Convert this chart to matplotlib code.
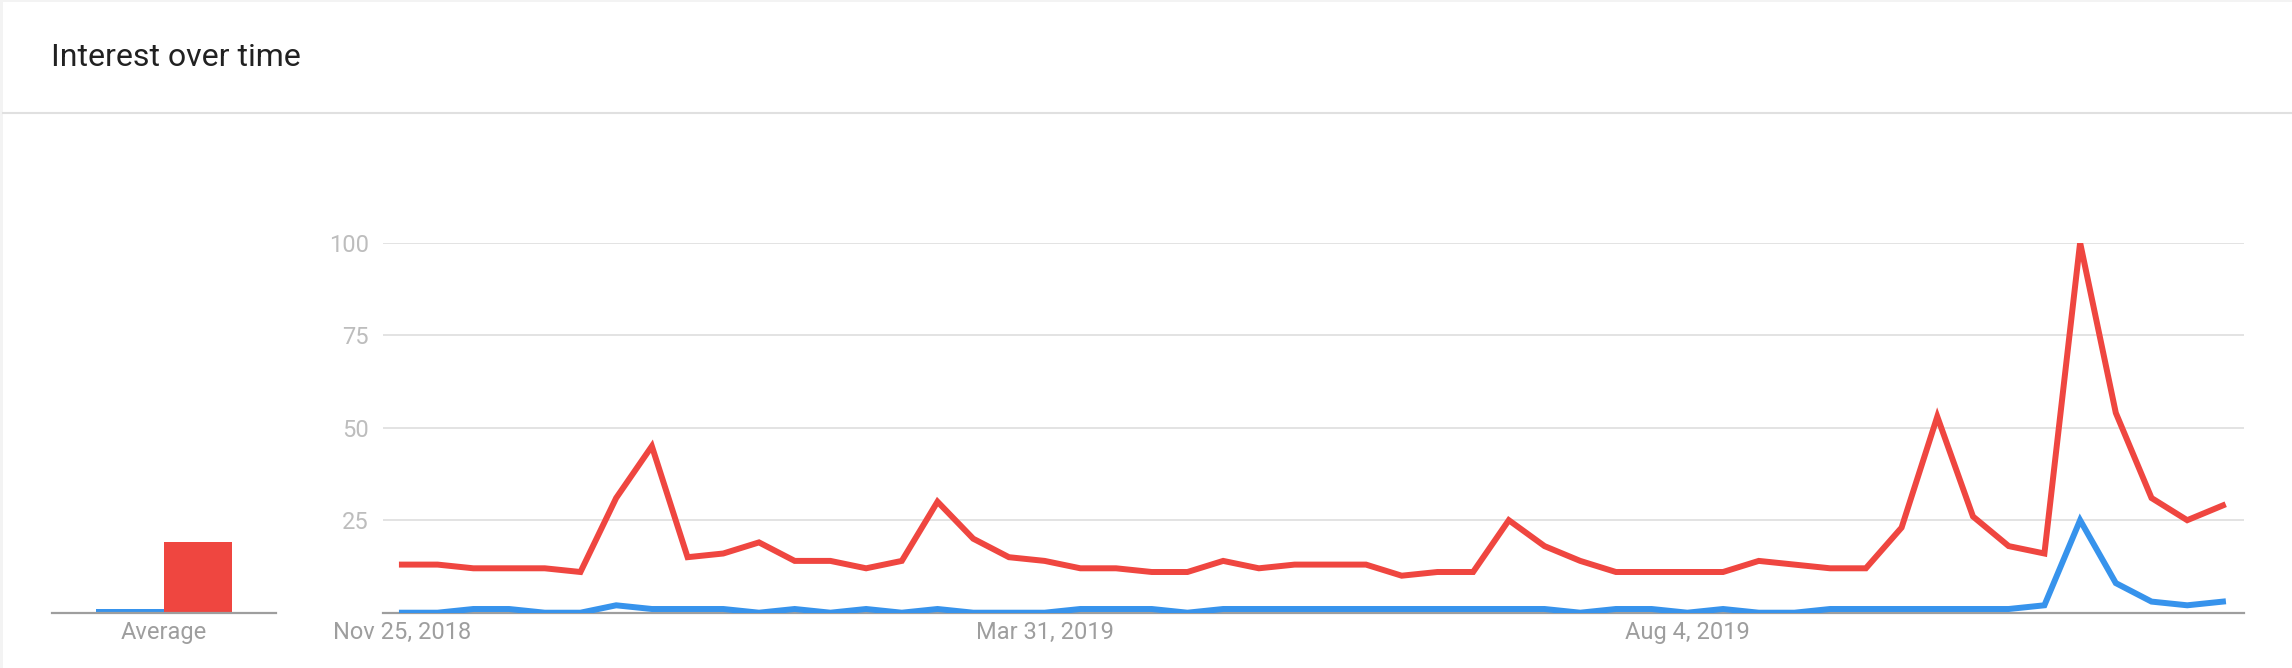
import matplotlib
matplotlib.use("Agg")
import matplotlib.pyplot as plt
import pandas as pd
from matplotlib.patches import Rectangle
from matplotlib.lines import Line2D

plt.rcParams['font.family'] = ['Roboto', 'DejaVu Sans']

# weekly Google Trends style data, Nov 25 2018 -> Nov 17 2019
weeks = pd.date_range('2018-11-25', periods=52, freq='W-SUN')

blue_vals = [0, 0, 1, 1, 0, 0, 2, 1, 1, 1, 0, 1, 0, 1, 0, 1, 0, 0, 0, 1,
             1, 1, 0, 1, 1, 1, 1, 1, 1, 1, 1, 1, 1, 0, 1, 1, 0, 1, 0, 0,
             1, 1, 1, 1, 1, 1, 2, 25, 8, 3, 2, 3]
red_vals = [13, 13, 12, 12, 12, 11, 31, 45, 15, 16, 19, 14, 14, 12, 14, 30, 20, 15, 14, 12,
            12, 11, 11, 14, 12, 13, 13, 13, 10, 11, 11, 25, 18, 14, 11, 11, 11, 11, 14, 13,
            12, 12, 23, 53, 26, 18, 16, 100, 54, 31, 25, 29]
avg_vals = [1, 19]

tick_dates = pd.to_datetime(['2018-11-25', '2019-03-31', '2019-08-04'])
tick_labels = ['Nov 25, 2018', 'Mar 31, 2019', 'Aug 4, 2019']
y_ticks = [25, 50, 75, 100]

blue = '#3793ec'
red = '#ef4640'

W, H = 2292, 668


def box(x0, y_top, x1, y_bot):
    return [x0 / W, 1 - y_bot / H, (x1 - x0) / W, (y_bot - y_top) / H]


fig = plt.figure(figsize=(W / 100, H / 100), dpi=100)
fig.patch.set_facecolor('#f3f3f3')
fig.add_artist(Rectangle((3 / W, 0), 1 - 3 / W, 1 - 2 / H, transform=fig.transFigure,
                         facecolor='white', edgecolor='none', zorder=0))
fig.add_artist(Line2D([3 / W, 1], [1 - 113 / H, 1 - 113 / H], color='#e0e0e0', lw=1.5))
fig.text(51 / W, 1 - 57 / H, 'Interest over time', fontsize=23, color='#212121', va='center')

# main line chart
ax = fig.add_axes(box(383, 242.7, 2244, 612.7))
ax.plot(weeks, blue_vals, color=blue, lw=4.3, solid_joinstyle='miter', zorder=3)
ax.plot(weeks, red_vals, color=red, lw=4.3, solid_joinstyle='miter', zorder=4)
ax.set_ylim(0, 100)
step = pd.Timedelta(weeks=1)
ax.set_xlim(weeks[0] - 0.53 * step, weeks[-1] + 0.59 * step)
ax.set_yticks(y_ticks)
ax.set_xticks(tick_dates)
ax.set_xticklabels(tick_labels)
ax.grid(axis='y', color='#e0e0e0', lw=1.3)
ax.set_axisbelow(True)
for s in ['top', 'right', 'left']:
    ax.spines[s].set_visible(False)
ax.spines['bottom'].set_color('#9e9e9e')
ax.spines['bottom'].set_linewidth(1.6)
ax.tick_params(axis='y', length=0, pad=10, labelsize=17, labelcolor='#bdbdbd')
ax.tick_params(axis='x', length=0, pad=6, labelsize=17, labelcolor='#9e9e9e')

# average bars
ax2 = fig.add_axes(box(52, 242.7, 276, 612.7))
ax2.bar([0, 1], avg_vals, width=1, color=[blue, red])
ax2.set_ylim(0, 100)
ax2.set_xlim(-1.147, 2.147)
ax2.set_yticks([])
ax2.set_xticks([0.5])
ax2.set_xticklabels(['Average'])
for s in ['top', 'right', 'left']:
    ax2.spines[s].set_visible(False)
ax2.spines['bottom'].set_color('#9e9e9e')
ax2.spines['bottom'].set_linewidth(1.6)
ax2.tick_params(axis='x', length=0, pad=6, labelsize=17, labelcolor='#9e9e9e')

fig.savefig('out.png', dpi=100)
